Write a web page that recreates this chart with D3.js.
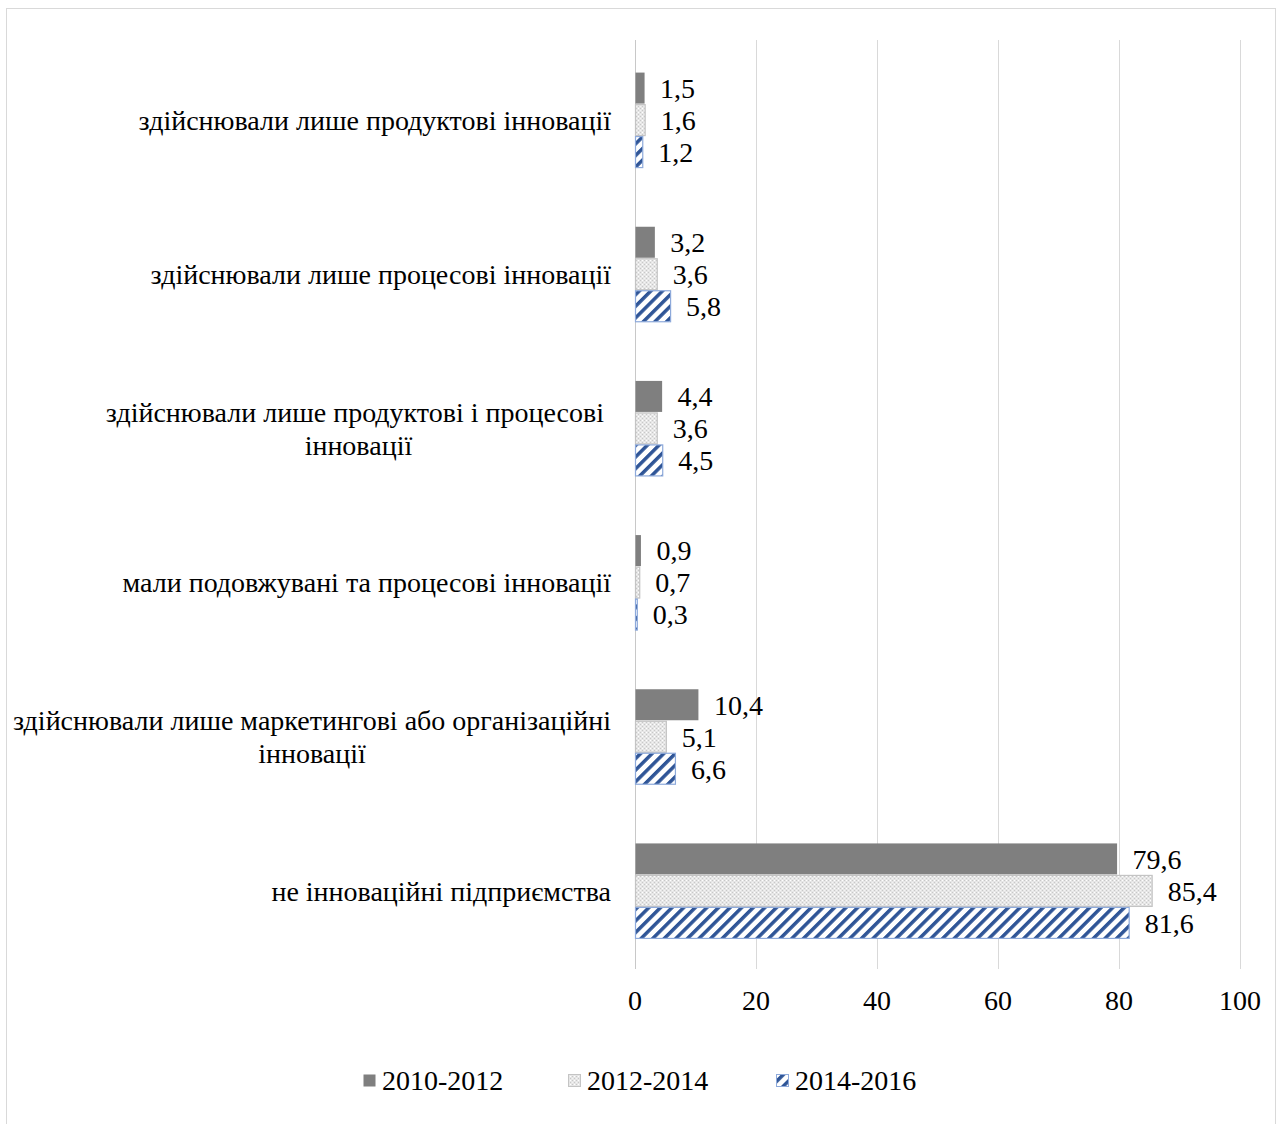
<!DOCTYPE html>
<html><head><meta charset="utf-8">
<script src="https://cdn.jsdelivr.net/npm/d3@7"></script>
<style>
body{margin:0;background:#fff;}
svg text{font-family:"Liberation Serif","Times New Roman",serif;fill:#000;}
</style></head>
<body>
<svg id="c" width="1277" height="1124"></svg>
<script>
const categories = [
  "здійснювали лише продуктові інновації",
  "здійснювали лише процесові інновації",
  "здійснювали лише продуктові і процесові \nінновації",
  "мали подовжувані та процесові інновації",
  "здійснювали лише маркетингові або організаційні\nінновації",
  "не інноваційні підприємства"
];
const seriesNames = ["2010-2012", "2012-2014", "2014-2016"];
const s2010_2012 = [1.5, 3.2, 4.4, 0.9, 10.4, 79.6];
const s2012_2014 = [1.6, 3.6, 3.6, 0.7, 5.1, 85.4];
const s2014_2016 = [1.2, 5.8, 4.5, 0.3, 6.6, 81.6];
const xTicks = [0, 20, 40, 60, 80, 100];
const seriesValues = [s2010_2012, s2012_2014, s2014_2016];

const svg = d3.select("#c");
const FS = 28;
const defs = svg.append("defs");
// dotted pattern
const pd = defs.append("pattern").attr("id","pDots").attr("patternUnits","userSpaceOnUse").attr("width",4).attr("height",4);
pd.append("rect").attr("width",4).attr("height",4).attr("fill","#e6e6e6");
pd.append("rect").attr("x",0).attr("y",0).attr("width",1).attr("height",1).attr("fill","#c8c8c8");
pd.append("rect").attr("x",2).attr("y",2).attr("width",1).attr("height",1).attr("fill","#c8c8c8");
pd.append("rect").attr("x",2).attr("y",0).attr("width",1).attr("height",1).attr("fill","#ffffff");
pd.append("rect").attr("x",0).attr("y",2).attr("width",1).attr("height",1).attr("fill","#f4f4f4");
// stripes pattern
const SP = 8.2;
const ps = defs.append("pattern").attr("id","pStripe").attr("patternUnits","userSpaceOnUse")
  .attr("width",SP).attr("height",SP).attr("patternTransform","rotate(45)");
ps.append("rect").attr("width",SP).attr("height",SP).attr("fill","#fff");
ps.append("rect").attr("width",3.5).attr("height",SP).attr("fill","#2f5597");

const fills = ["#7f7f7f","url(#pDots)","url(#pStripe)"];
const strokes = ["none","#c4c4c4","#8eaadb"];

// outer border
svg.append("rect").attr("x",6.5).attr("y",8.5).attr("width",1269).attr("height",1130)
  .attr("fill","none").attr("stroke","#d9d9d9").attr("stroke-width",1);

const x = d3.scaleLinear().domain([0,100]).range([635,1240]);
const y = d3.scaleBand().domain(categories).range([43,968]);
const barH = 32;

// gridlines
svg.append("g").selectAll("line").data(xTicks).join("line")
  .attr("x1",d=>x(d)+0.5).attr("x2",d=>x(d)+0.5).attr("y1",40).attr("y2",969)
  .attr("stroke",d=>d===0?"#c8c8c8":"#d9d9d9").attr("stroke-width",1);

// tick labels
svg.append("g").selectAll("text").data(xTicks).join("text")
  .attr("x",d=>x(d)).attr("y",1000).attr("text-anchor","middle").attr("dy","0.35em")
  .attr("font-size",FS).text(d=>d);

// bars
seriesValues.forEach((vals,si)=>{
  const g = svg.append("g");
  g.selectAll("rect").data(vals).join("rect")
    .attr("x",x(0)+0.5)
    .attr("y",(d,i)=>y(categories[i])+y.bandwidth()/2 - 1.5*barH + si*barH + 0.5)
    .attr("width",d=>x(d)-x(0))
    .attr("height",barH-1)
    .attr("fill",fills[si]).attr("stroke",strokes[si]).attr("stroke-width",1.2);
  g.selectAll("text").data(vals).join("text")
    .attr("x",d=>x(d)+16)
    .attr("y",(d,i)=>y(categories[i])+y.bandwidth()/2 - barH + si*barH)
    .attr("dy","0.35em").attr("font-size",FS)
    .text(d=>String(d.toFixed(1)).replace(".",","));
});

// category labels
const LRIGHT = 611;
categories.forEach(c=>{
  const lines = c.split("\n");
  const cy = y(c)+y.bandwidth()/2;
  const lh = 33;
  const t = svg.append("g");
  const texts = lines.map((ln,i)=> t.append("text")
    .attr("y", cy + (i-(lines.length-1)/2)*lh).attr("dy","0.35em")
    .attr("font-size",FS).style("white-space","pre").text(ln));
  if(lines.length===1){
    texts[0].attr("x",LRIGHT).attr("text-anchor","end");
  } else {
    const w = d3.max(texts,tx=>tx.node().getComputedTextLength());
    texts.forEach(tx=>tx.attr("x",LRIGHT-w/2).attr("text-anchor","middle"));
  }
});

// legend
const legX = [363, 568, 776];
seriesNames.forEach((n,i)=>{
  svg.append("rect").attr("x",legX[i]+0.5).attr("y",1074.5).attr("width",12).attr("height",12)
    .attr("fill",fills[i]).attr("stroke",strokes[i]);
  svg.append("text").attr("x",legX[i]+19).attr("y",1080).attr("dy","0.35em")
    .attr("font-size",FS).text(n);
});
</script>
</body></html>
